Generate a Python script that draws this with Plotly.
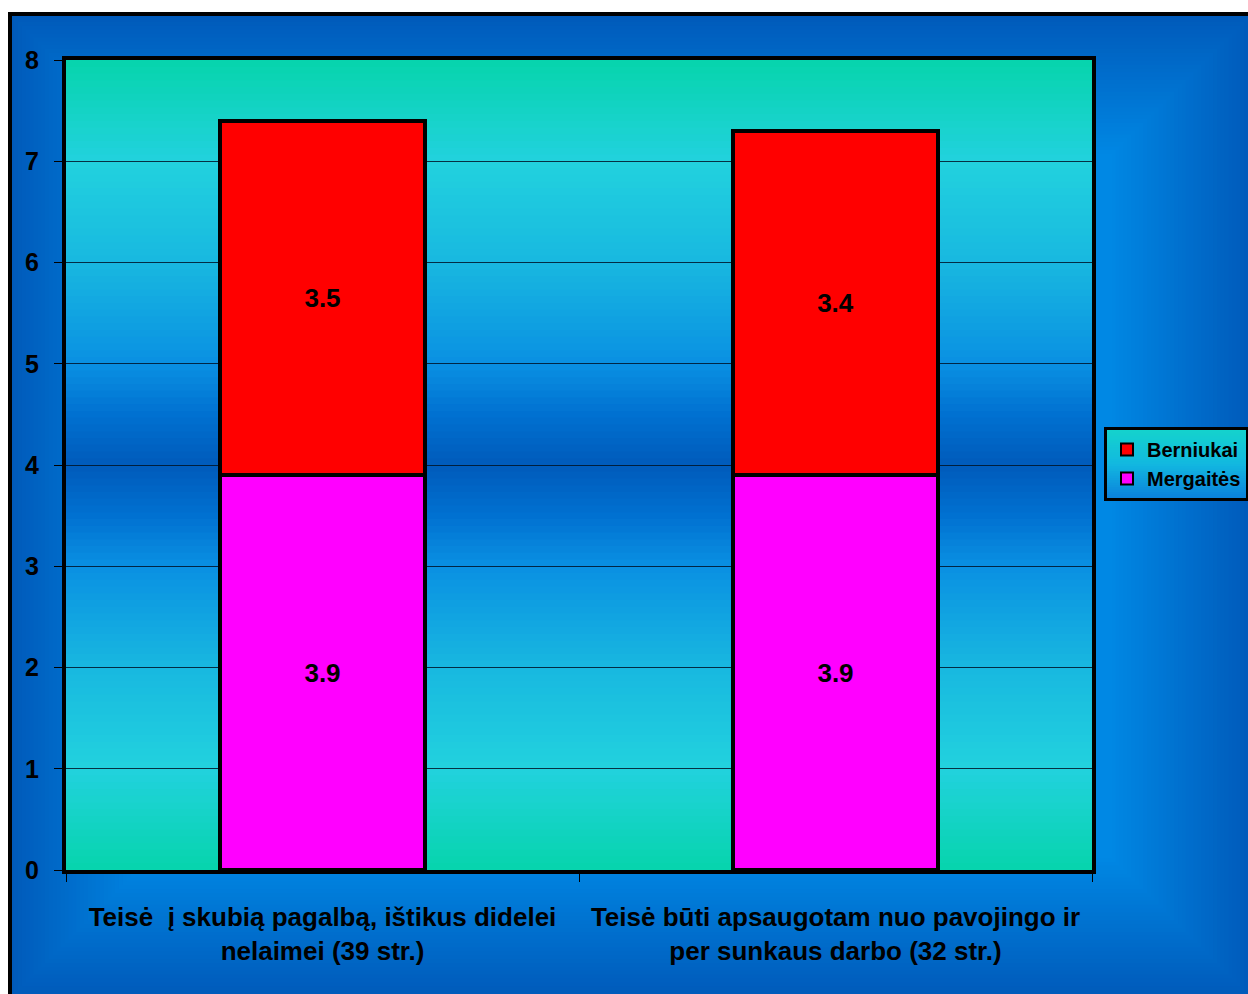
import plotly.graph_objects as go

# ---- data ----
categories = [
    "Teisė \u00a0į skubią pagalbą, ištikus didelei<br>nelaimei (39 str.)",
    "Teisė būti apsaugotam nuo pavojingo ir<br>per sunkaus darbo (32 str.)",
]
mergaites = [3.9, 3.9]
berniukai = [3.5, 3.4]
y_tickvals = [0, 1, 2, 3, 4, 5, 6, 7, 8]

W, H = 1248, 994
ML, MR, MT, MB = 66, 156, 60, 124
PW, PH = W - ML - MR, H - MT - MB


def px_x(px):
    return (px - ML) / PW


def px_y(py):
    return (H - MB - py) / PH


def lerp(c1, c2, t):
    return tuple(round(a + (b - a) * t) for a, b in zip(c1, c2))


def grad(stops, t):
    for (t0, c0), (t1, c1) in zip(stops[:-1], stops[1:]):
        if t0 <= t <= t1:
            return lerp(c0, c1, (t - t0) / (t1 - t0) if t1 > t0 else 0)
    return stops[-1][1]


def rgb(c):
    return "rgb(%d,%d,%d)" % c


shapes = []

# outer frame: concentric gradient from dark edge to lighter centre
fl, ft, fr, fb = 10, 14, 1252, 998
dark, light = (0, 90, 186), (0, 136, 228)
N = 36
span = 140
for i in range(N + 1):
    inset = span * i / N
    shapes.append(dict(
        type="rect", xref="paper", yref="paper", layer="below",
        x0=px_x(fl + inset), x1=px_x(fr - inset),
        y0=px_y(fb - inset), y1=px_y(ft + inset),
        fillcolor=rgb(lerp(dark, light, i / N)), line=dict(width=0)))
shapes.append(dict(
    type="rect", xref="paper", yref="paper", layer="below",
    x0=px_x(fl), x1=px_x(fr), y0=px_y(fb), y1=px_y(ft),
    fillcolor="rgba(0,0,0,0)", line=dict(color="black", width=4)))

# plot area vertical gradient (symmetric)
pstops = [
    (0.0, (6, 212, 172)), (0.125, (34, 210, 222)), (0.25, (24, 184, 224)),
    (0.375, (10, 144, 226)), (0.44, (0, 112, 208)), (0.5, (0, 90, 186)),
    (0.56, (0, 112, 208)), (0.625, (10, 144, 226)), (0.75, (24, 184, 224)),
    (0.875, (34, 210, 222)), (1.0, (6, 212, 172)),
]
NB = 120
for i in range(NB):
    t = (i + 0.5) / NB
    shapes.append(dict(
        type="rect", xref="x domain", yref="y domain", layer="below",
        x0=0, x1=1, y0=i / NB, y1=min(1, (i + 1.6) / NB),
        fillcolor=rgb(grad(pstops, t)), line=dict(width=0)))

# legend background gradient (teal at top to blue at bottom)
lx0, lx1, ly0, ly1 = 1105, 1246, 429, 499
lstops = [(0.0, (10, 128, 220)), (0.5, (18, 184, 224)), (1.0, (20, 212, 204))]
NL = 30
for i in range(NL):
    t = (i + 0.5) / NL
    yb = ly1 - (ly1 - ly0) * i / NL
    yt = ly1 - (ly1 - ly0) * min(1, (i + 1.6) / NL)
    shapes.append(dict(
        type="rect", xref="paper", yref="paper", layer="above",
        x0=px_x(lx0), x1=px_x(lx1), y0=px_y(yb), y1=px_y(yt),
        fillcolor=rgb(grad(lstops, t)), line=dict(width=0)))

font_family = "Liberation Sans, Arial, sans-serif"

fig = go.Figure()
fig.add_trace(go.Bar(
    name="Mergaitės", x=categories, y=mergaites,
    marker=dict(color="#FF00FF", line=dict(color="black", width=4)),
    width=0.4, texttemplate="%{y:.1f}", textposition="inside",
    insidetextanchor="middle",
    textfont=dict(color="black", size=26, family=font_family, weight="bold"),
))
fig.add_trace(go.Bar(
    name="Berniukai", x=categories, y=berniukai,
    marker=dict(color="#FF0000", line=dict(color="black", width=4)),
    width=0.4, texttemplate="%{y:.1f}", textposition="inside",
    insidetextanchor="middle",
    textfont=dict(color="black", size=26, family=font_family, weight="bold"),
))

fig.update_layout(
    width=W, height=H,
    margin=dict(l=ML, r=MR, t=MT, b=MB, autoexpand=False),
    barmode="stack",
    paper_bgcolor="white",
    plot_bgcolor="rgba(0,0,0,0)",
    shapes=shapes,
    font=dict(family=font_family, color="black", weight="bold"),
    showlegend=True,
    legend=dict(
        x=px_x(1104), y=px_y(427), xanchor="left", yanchor="top",
        bgcolor="rgba(0,0,0,0)", bordercolor="black", borderwidth=3,
        font=dict(size=20, family=font_family, color="black", weight="bold"),
        traceorder="reversed", itemsizing="constant",
    ),
    uniformtext=dict(mode=False),
)

fig.update_xaxes(
    showline=True, linecolor="black", linewidth=4, mirror=True,
    ticks="outside", ticklen=8, tickcolor="black", tickwidth=1,
    tickson="boundaries", showgrid=False, tickangle=0,
    tickfont=dict(size=26, family=font_family, color="black", weight="bold"),
    ticklabelstandoff=21, automargin=False,
)
fig.update_yaxes(
    range=[0, 8], tickvals=y_tickvals,
    showline=True, linecolor="black", linewidth=4, mirror=True,
    ticks="outside", ticklen=8, tickcolor="black", tickwidth=1,
    showgrid=True, gridcolor="rgba(0,20,40,0.85)", gridwidth=1,
    zeroline=False,
    tickfont=dict(size=25, family=font_family, color="black", weight="bold"),
    ticklabelstandoff=10, automargin=False,
)

fig.write_html(
    "out.html",
    config={"displayModeBar": False},
    post_script="document.body.style.margin='0px';document.body.style.overflow='hidden';",
)
